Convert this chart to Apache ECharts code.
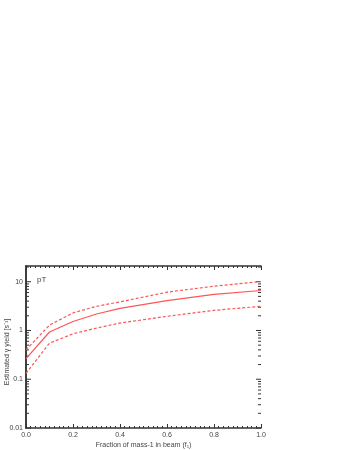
<!DOCTYPE html>
<html><head><meta charset="utf-8">
<script src="https://cdn.jsdelivr.net/npm/echarts@6/dist/echarts.min.js"></script>
<style>html,body{margin:0;padding:0;background:#fff}#c{width:348px;height:450px}</style>
</head><body><div id="c"></div>
<script>
const xValues = [0.0, 0.1, 0.2, 0.3, 0.4, 0.6, 0.8, 1.0];
const yieldCentral = [0.264, 0.93, 1.53, 2.18, 2.85, 4.1, 5.5, 6.6];
const yieldUpper = [0.40, 1.29, 2.29, 3.13, 3.86, 6.1, 8.1, 10.1];
const yieldLower = [0.132, 0.55, 0.855, 1.12, 1.42, 1.95, 2.59, 3.13];
const yMajorTicks = [0.01, 0.1, 1, 10];
const yMinorTicks = [0.02,0.03,0.04,0.05,0.06,0.07,0.08,0.09,0.2,0.3,0.4,0.5,0.6,0.7,0.8,0.9,2,3,4,5,6,7,8,9,20];
const yLabels = {'0.01':'0.01','0.1':'0.1','1':'1','10':'10'};

const font = 'Liberation Sans, Arial, sans-serif';
const txt = '#444';
const axisCol = '#333';
const red = '#ff5555';

const chart = echarts.init(document.getElementById('c'));
const pair = arr => xValues.map((x,i)=>[x, arr[i]]);
const tickData = yMajorTicks.map(v=>[0,v,1]).concat(yMinorTicks.map(v=>[0,v,0]));

chart.setOption({
  animation:false,
  grid:{left:26, right:87, top:266, bottom:22, containLabel:false, outerBoundsMode:'none'},
  xAxis:[{
    type:'value', min:0, max:1, interval:0.2,
    name:'Fraction of mass-1 in beam (f\u2081)', nameLocation:'middle', nameGap:14,
    nameTextStyle:{fontFamily:font, fontSize:7, color:txt},
    axisLine:{onZero:false, lineStyle:{color:axisCol, width:1.5}},
    axisTick:{inside:true, length:4, lineStyle:{color:axisCol}},
    minorTick:{show:true, splitNumber:10, length:2, lineStyle:{color:axisCol}},
    axisLabel:{fontFamily:font, fontSize:7, color:txt, margin:4, formatter:v=>v.toFixed(1)},
    splitLine:{show:false}
  },{
    type:'value', min:0, max:1, interval:0.2, position:'top',
    axisLine:{lineStyle:{color:axisCol, width:1.5}},
    axisTick:{inside:true, length:4, lineStyle:{color:axisCol}},
    minorTick:{show:true, splitNumber:10, length:2, lineStyle:{color:axisCol}},
    axisLabel:{show:false}, splitLine:{show:false}
  }],
  yAxis:[{
    type:'log', logBase:10, min:0.01, max:21,
    axisLine:{lineStyle:{color:axisCol, width:1.5}},
    axisTick:{show:false},
    axisLabel:{fontFamily:font, fontSize:7, color:txt, margin:3,
      formatter:v=>{const k=String(+v.toPrecision(3)); return yLabels[k]||'';}},
    splitLine:{show:false}
  },{
    type:'log', logBase:10, min:0.01, max:21, position:'right',
    axisLine:{lineStyle:{color:axisCol, width:1.5}},
    axisTick:{show:false}, axisLabel:{show:false}, splitLine:{show:false}
  }],
  graphic:[
    {type:'text', left:37, top:276, style:{text:'pT', font:'8px '+font, fill:txt}},
    {type:'text', x:7, y:352, rotation:Math.PI/2,
     style:{text:'Estimated \u03b3 yield [s\u207b\u00b9]', font:'7px '+font, fill:txt, align:'center', verticalAlign:'middle'}}
  ],
  series:[
    {type:'custom', xAxisIndex:0, yAxisIndex:0, silent:true, clip:false,
     data:tickData,
     renderItem:(params, api)=>{
       const v = api.value(1), major = api.value(2);
       const l = api.coord([0, v]), r = api.coord([1, v]);
       const len = major ? 5 : 3;
       const st = {stroke:axisCol, lineWidth:1};
       return {type:'group', children:[
         {type:'line', shape:{x1:l[0], y1:l[1], x2:l[0]+len, y2:l[1]}, style:st},
         {type:'line', shape:{x1:r[0], y1:r[1], x2:r[0]-len, y2:r[1]}, style:st}
       ]};
     }},
    {type:'line', data:pair(yieldCentral), symbol:'none', lineStyle:{color:red, width:1.2}},
    {type:'line', data:pair(yieldUpper), symbol:'none', lineStyle:{color:red, width:1.2, type:[3,2]}},
    {type:'line', data:pair(yieldLower), symbol:'none', lineStyle:{color:red, width:1.2, type:[3,2]}}
  ]
});
</script></body></html>
